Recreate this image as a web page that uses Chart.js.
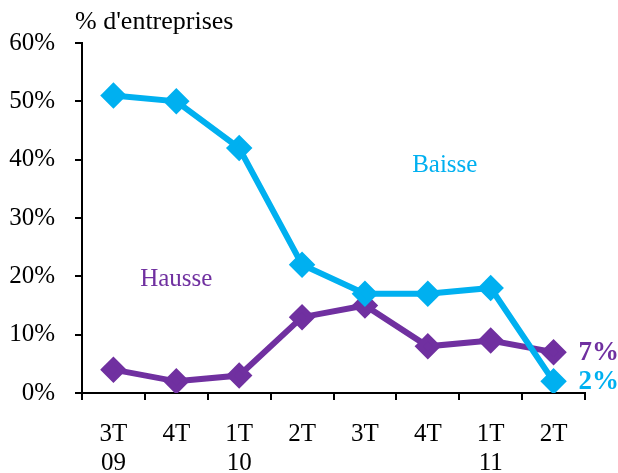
<!DOCTYPE html>
<html><head><meta charset="utf-8">
<script src="https://cdn.jsdelivr.net/npm/chart.js@4/dist/chart.umd.min.js"></script>
<style>html,body{margin:0;padding:0;background:#fff}#wrap{width:618px;height:473px}</style>
</head><body><div id="wrap"><canvas id="c" width="618" height="473"></canvas></div>
<script>
const categories = [["3T","09"],["4T",""],["1T","10"],["2T",""],["3T",""],["4T",""],["1T","11"],["2T",""]];
const baisse = [51, 50, 42, 22, 17, 17, 18, 2];
const hausse = [4, 2, 3, 13, 15, 8, 9, 7];
const yTicks = [0, 10, 20, 30, 40, 50, 60];
const CYAN = '#00B0F0', PURPLE = '#7030A0';
const FONT = '"Liberation Serif", "Times New Roman", serif';

const textPlugin = {
  id: 'texts',
  afterDraw(chart) {
    const ctx = chart.ctx, x = chart.scales.x, y = chart.scales.y;
    ctx.save();
    ctx.textBaseline = 'middle';
    ctx.font = '26px ' + FONT;
    ctx.fillStyle = '#000'; ctx.textAlign = 'left';
    ctx.fillText("% d'entreprises", 75, 22);
    ctx.font = '25px ' + FONT;
    ctx.textAlign = 'center';
    ctx.fillStyle = CYAN;
    const step = x.getPixelForValue(1) - x.getPixelForValue(0);
    ctx.fillText('Baisse', x.getPixelForValue(5) + 0.27 * step, y.getPixelForValue(39));
    ctx.fillStyle = PURPLE;
    ctx.fillText('Hausse', x.getPixelForValue(1), y.getPixelForValue(19.4));
    ctx.font = 'bold 27px ' + FONT;
    ctx.textAlign = 'left';
    const last = hausse.length - 1;
    ctx.fillStyle = PURPLE;
    ctx.fillText(hausse[last] + '%', x.getPixelForValue(last) + 25, y.getPixelForValue(hausse[last]) + 1);
    ctx.fillStyle = CYAN;
    ctx.fillText(baisse[last] + '%', x.getPixelForValue(last) + 25, y.getPixelForValue(baisse[last]) + 1);
    ctx.restore();
  }
};

new Chart(document.getElementById('c'), {
  type: 'line',
  data: {
    labels: categories,
    datasets: [
      { label: 'Baisse', data: baisse, borderColor: CYAN, backgroundColor: CYAN, borderWidth: 6,
        pointStyle: 'rectRot', pointRadius: 9, pointHoverRadius: 9, tension: 0 },
      { label: 'Hausse', data: hausse, borderColor: PURPLE, backgroundColor: PURPLE, borderWidth: 6,
        pointStyle: 'rectRot', pointRadius: 9, pointHoverRadius: 9, tension: 0 }
    ]
  },
  options: {
    responsive: false, animation: false,
    layout: { padding: { top: 43, right: 33, left: 0, bottom: 0 } },
    plugins: { legend: { display: false }, tooltip: { enabled: false } },
    scales: {
      x: {
        offset: true,
        grid: { offset: true, drawOnChartArea: false, drawTicks: true, tickLength: 7, color: '#000', lineWidth: 2 },
        border: { display: true, color: '#000', width: 2 },
        ticks: { color: '#000', font: { family: FONT, size: 25, lineHeight: 1.16 }, padding: 20, maxRotation: 0, autoSkip: false },
        afterFit(s) { s.height = 80; }
      },
      y: {
        min: 0, max: 60,
        afterBuildTicks(s) { s.ticks = yTicks.map(v => ({ value: v })); },
        grid: { drawOnChartArea: false, drawTicks: true, tickLength: 7, color: '#000', lineWidth: 2 },
        border: { display: true, color: '#000', width: 2 },
        ticks: { color: '#000', font: { family: FONT, size: 25 }, padding: 20, callback: v => v + '%' },
        afterFit(s) { s.width = 82; }
      }
    }
  },
  plugins: [textPlugin]
});
</script></body></html>
